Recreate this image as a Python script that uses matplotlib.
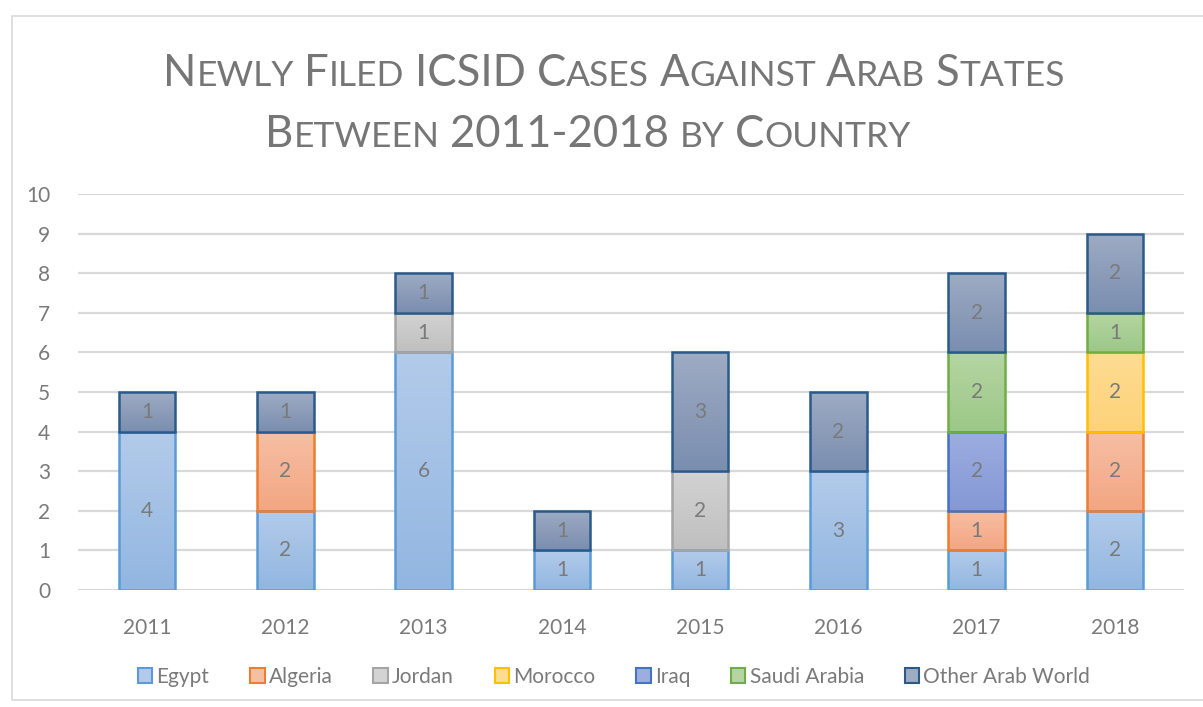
import matplotlib
matplotlib.use("Agg")
import matplotlib.pyplot as plt
import numpy as np
from matplotlib.patches import Rectangle, Patch
from matplotlib.colors import LinearSegmentedColormap

plt.rcParams['font.family'] = ['Lato', 'DejaVu Sans']

years = ['2011', '2012', '2013', '2014', '2015', '2016', '2017', '2018']
series_names = ['Egypt', 'Algeria', 'Jordan', 'Morocco', 'Iraq', 'Saudi Arabia', 'Other Arab World']
egypt = [4, 2, 6, 1, 1, 3, 1, 2]
algeria = [0, 2, 0, 0, 0, 0, 1, 2]
jordan = [0, 0, 1, 0, 2, 0, 0, 0]
morocco = [0, 0, 0, 0, 0, 0, 0, 2]
iraq = [0, 0, 0, 0, 0, 0, 2, 0]
saudi = [0, 0, 0, 0, 0, 0, 2, 1]
other = [1, 1, 1, 1, 3, 2, 2, 2]
yticks = list(range(0, 11))
title_lines = ['Newly Filed ICSID Cases Against Arab States', 'Between 2011-2018 by Country']

series = [egypt, algeria, jordan, morocco, iraq, saudi, other]
edge_colors = ['#5b9bd5', '#ed7d31', '#a5a5a5', '#ffc000', '#4472c4', '#70ad47', '#2a5a8a']
top_colors = ['#b3cbea', '#f6bfa4', '#d3d3d3', '#fedc92', '#9cade0', '#b5d5a2', '#9eabc3']
bot_colors = ['#92b6e1', '#f3a682', '#bfbfbf', '#fdd27a', '#8598d5', '#9cc888', '#7a8eaf']

W, H = 1203, 707
fig = plt.figure(figsize=(W / 100, H / 100), dpi=100)
fig.patch.set_facecolor('white')

# chart border
fig.add_artist(Rectangle((12 / W, 1 - 700 / H), (W + 10) / W, (700 - 16) / H,
                         transform=fig.transFigure, fill=False, edgecolor='#d9d9d9', lw=1.2))

ax = fig.add_axes([78 / W, 1 - 590 / H, (1184 - 78) / W, (590 - 194) / H])
x = np.arange(len(years))
bw = 0.41
bottom = np.zeros(len(years))
text_col = '#7a7a7a'
fs = 15
for vals, ec, tc, bc in zip(series, edge_colors, top_colors, bot_colors):
    vals = np.array(vals, dtype=float)
    idx = np.where(vals > 0)[0]
    cmap = LinearSegmentedColormap.from_list('g', [bc, tc])
    bars = ax.bar(x[idx], vals[idx], bw, bottom=bottom[idx], facecolor='none',
                  edgecolor=ec, linewidth=1.8, zorder=4)
    for b, i in zip(bars, idx):
        x0, y0 = b.get_x(), b.get_y()
        w, h = b.get_width(), b.get_height()
        grad = np.linspace(0, 1, 100).reshape(-1, 1)
        im = ax.imshow(grad, cmap=cmap, origin='lower', aspect='auto',
                       extent=(x0, x0 + w, y0, y0 + h), zorder=3, interpolation='bilinear')
        im.set_clip_path(b)
        ax.text(x0 + w / 2, y0 + h / 2, f'{int(vals[i])}', ha='center', va='center',
                fontsize=fs, color=text_col, zorder=5)
    bottom = bottom + vals

ax.set_xlim(-0.5, len(years) - 0.5)
ax.set_ylim(0, 10)
ax.set_yticks(yticks)
ax.set_xticks(x)
ax.set_xticklabels(years)
ax.tick_params(axis='both', length=0, labelsize=fs, labelcolor=text_col)
ax.tick_params(axis='x', pad=20)
ax.tick_params(axis='y', pad=20)
for s in ax.spines.values():
    s.set_visible(False)
ax.yaxis.grid(True, color='#d9d9d9', lw=1.6, zorder=0)
ax.set_axisbelow(True)

# legend
handles = [Patch(facecolor=tc, edgecolor=ec, lw=1.5) for ec, tc in zip(edge_colors, top_colors)]
fig.legend(handles, series_names, loc='center', bbox_to_anchor=(614 / W, 1 - 677 / H), ncol=7,
           frameon=False, fontsize=fs, labelcolor=text_col, handlelength=0.7, handleheight=0.7,
           handletextpad=0.2, columnspacing=1.95)

# small caps title
renderer = fig.canvas.get_renderer()
title_col = '#767676'
big = 31.5
small = big * 0.81


def draw_smallcaps(line, cx, baseline_px, big, small):
    words = line.split(' ')
    items = []
    for wi, word in enumerate(words):
        runs = []
        for ch in word:
            is_big = not ch.islower()
            if runs and runs[-1][1] == is_big:
                runs[-1][0] += ch.upper()
            else:
                runs.append([ch.upper(), is_big])
        items.append(runs)
    arts = []
    cur = 0.0
    space = big * 1.389 * 0.24
    for wi, runs in enumerate(items):
        if wi > 0:
            cur += space
        for s, is_big in runs:
            t = fig.text(0, 0, s, fontsize=big if is_big else small, color=title_col,
                         ha='left', va='baseline', transform=None)
            bb = t.get_window_extent(renderer)
            arts.append((t, cur))
            cur += bb.width
    total = cur
    start = cx - total / 2
    for t, off in arts:
        t.set_position((start + off, H - baseline_px))
    return total


draw_smallcaps(title_lines[0], 614, 86, big, small)
draw_smallcaps(title_lines[1], 588, 147, big, small)

fig.savefig('out.png', dpi=100, facecolor='white')
